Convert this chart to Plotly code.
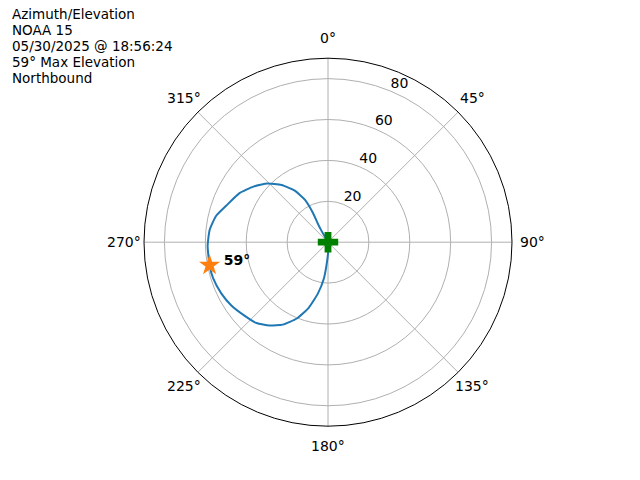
import math
import plotly.graph_objects as go

# Satellite pass track (azimuth deg, elevation deg)
azimuth = [178, 178, 183, 186.4, 191.1, 196.3, 202.2, 208.8, 215, 221.5, 228.7, 236.8, 244.4, 252.6, 259,
           268.2, 275.9, 283.3, 289.7, 299.0, 306.7, 314.1, 320.9, 327.2, 331.4, 332.8, 331.1, 330, 331]
elevation = [0, 3.8, 9.8, 17.7, 25.5, 33.3, 40.3, 46, 49.8, 52.8, 54.4, 56.5, 57.9, 58.9, 59,
             58.9, 58.2, 56.2, 52.9, 49.5, 45.5, 41.2, 36.0, 30.0, 23.7, 16.2, 9.7, 4.3, 0]

max_az = [259]
max_el = [59]
max_label = ["<b>59°</b>"]

start_az = [0]
start_el = [0]

title_lines = ["Azimuth/Elevation", "NOAA 15", "05/30/2025 @ 18:56:24", "59° Max Elevation", "Northbound"]
radial_ticks = [20, 40, 60, 80]
radial_label_angle = 22.5
angular_ticks = [0, 45, 90, 135, 180, 225, 270, 315]
r_max = 90

FONT = "DejaVu Sans"

fig = go.Figure()
fig.add_trace(go.Scatterpolar(r=elevation, theta=azimuth, mode="lines",
                              line=dict(color="#1f77b4", width=2, shape="spline", smoothing=0.5),
                              showlegend=False, hoverinfo="skip"))
fig.add_trace(go.Scatterpolar(r=start_el, theta=start_az, mode="markers",
                              marker=dict(symbol="cross", size=17, color="green"),
                              showlegend=False))
fig.add_trace(go.Scatterpolar(r=max_el, theta=max_az, mode="markers",
                              marker=dict(symbol="star", size=16, color="#ff7f0e", line=dict(width=0)),
                              showlegend=False))
fig.add_trace(go.Scatterpolar(r=[v - 13.5 for v in max_el], theta=[a - 1 for a in max_az], mode="text",
                              text=max_label, textfont=dict(family=FONT, size=14, color="black"),
                              showlegend=False))
# radial tick labels (matplotlib style, placed along 22.5°)
fig.add_trace(go.Scatterpolar(r=radial_ticks, theta=[radial_label_angle] * len(radial_ticks), mode="text",
                              text=[str(t) for t in radial_ticks], textposition="top right",
                              textfont=dict(family=FONT, size=14, color="black"),
                              showlegend=False, hoverinfo="skip"))

# polar placement (pixels)
cx, cy, R = 328, 242.2, 184.0
W, H = 640, 480

annotations = []
for i, line in enumerate(title_lines):
    baseline_px = 17.5 + i * 16.1 + 3
    annotations.append(dict(text=line, x=10 / W, y=1 - (baseline_px + 3.5) / H,
                            xref="paper", yref="paper", xanchor="left", yanchor="bottom",
                            showarrow=False, font=dict(family=FONT, size=13.5, color="black")))

# angular tick labels centred at a fixed distance outside the rim (matplotlib style)
label_dist = R + 20
for t in angular_ticks:
    a = math.radians(t)
    px = cx + label_dist * math.sin(a)
    py = cy - label_dist * math.cos(a)
    annotations.append(dict(text=f"{t}°", x=px / W, y=1 - py / H, xref="paper", yref="paper",
                            xanchor="center", yanchor="middle", showarrow=False,
                            font=dict(family=FONT, size=14, color="black")))

fig.update_layout(
    width=W, height=H,
    margin=dict(l=0, r=0, t=0, b=0),
    paper_bgcolor="white",
    hovermode=False,
    font=dict(family=FONT, size=14, color="black"),
    annotations=annotations,
    polar=dict(
        domain=dict(x=[(cx - R) / W, (cx + R) / W], y=[1 - (cy + R) / H, 1 - (cy - R) / H]),
        bgcolor="white",
        angularaxis=dict(rotation=90, direction="clockwise", tickmode="array",
                         tickvals=angular_ticks, showticklabels=False,
                         showline=True, linecolor="black", linewidth=1,
                         gridcolor="#b0b0b0", gridwidth=0.8, ticks=""),
        radialaxis=dict(range=[0, r_max], tickmode="array", tickvals=radial_ticks,
                        showticklabels=False, showline=False, ticks="",
                        gridcolor="#b0b0b0", gridwidth=0.8),
    ),
)

fig.write_html("out.html", config={"displayModeBar": False},
               post_script="document.body.style.margin='0';document.body.style.padding='0';")
